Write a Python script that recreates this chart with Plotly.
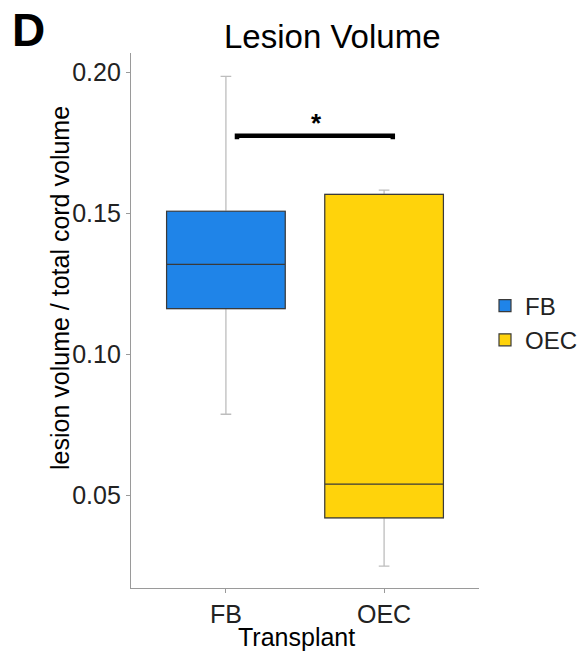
import plotly.graph_objects as go

groups = ["FB", "OEC"]
positions = [0, 1]
q1 = [0.1162, 0.0419]
median = [0.1319, 0.0539]
q3 = [0.1508, 0.1568]
lower = [0.0787, 0.0248]
upper = [0.1987, 0.1583]
colors = ["#1F84E8", "#FFD30B"]

bracket_x = [0.07, 1.055]
bracket_y = 0.1776
bracket_drop = 0.0012
star_x = 0.57
star_y = 0.1822

FONT = "Liberation Sans, Arial, sans-serif"

W, H = 584, 653
ML, MR, MT, MB = 131, 105, 53, 65
PW, PH = W - ML - MR, H - MT - MB


def px_x(px):
    return (px - ML) / PW


def px_y(py):
    return (H - MB - py) / PH


fig = go.Figure()
for i, g in enumerate(groups):
    # whiskers (light grey)
    fig.add_trace(go.Box(
        x=[positions[i]], q1=[q1[i]], median=[median[i]], q3=[q3[i]],
        lowerfence=[lower[i]], upperfence=[upper[i]],
        width=0.75, whiskerwidth=0.09, fillcolor=colors[i],
        line=dict(color="#BDBDBD", width=1.3), showlegend=False,
        hoverinfo="skip", boxpoints=False,
    ))
for i, g in enumerate(groups):
    # box body with dark outline and median
    fig.add_trace(go.Box(
        x=[positions[i]], q1=[q1[i]], median=[median[i]], q3=[q3[i]],
        lowerfence=[q1[i]], upperfence=[q3[i]],
        width=0.75, whiskerwidth=0.0, fillcolor=colors[i],
        line=dict(color="#3A3A3A", width=1.2), name=g, showlegend=True,
        boxpoints=False,
    ))

# significance bracket
fig.add_trace(go.Scatter(
    x=[bracket_x[0], bracket_x[0], bracket_x[1], bracket_x[1]],
    y=[bracket_y - bracket_drop, bracket_y, bracket_y, bracket_y - bracket_drop],
    mode="lines", line=dict(color="black", width=4.5), showlegend=False,
    hoverinfo="skip",
))
fig.add_annotation(x=star_x, y=star_y, text="<b>*</b>", showarrow=False,
                   font=dict(family=FONT, size=26, color="black"),
                   xref="x", yref="y", yanchor="middle")

# panel letter
fig.add_annotation(x=px_x(10), y=px_y(2), xref="paper", yref="paper",
                   text="<b>D</b>", showarrow=False, xanchor="left", yanchor="top",
                   font=dict(family=FONT, size=46, color="black"))
# title
fig.add_annotation(x=px_x(332), y=px_y(36), xref="paper", yref="paper",
                   text="Lesion Volume", showarrow=False, xanchor="center",
                   yanchor="middle",
                   font=dict(family=FONT, size=33, color="black"))
# axis titles
fig.add_annotation(x=px_x(296), y=px_y(637), xref="paper", yref="paper",
                   text="Transplant", showarrow=False, xanchor="center",
                   yanchor="middle",
                   font=dict(family=FONT, size=25, color="black"))
fig.add_annotation(x=px_x(60), y=px_y(288), xref="paper", yref="paper",
                   text="lesion volume / total cord volume", showarrow=False,
                   xanchor="center", yanchor="middle", textangle=-90,
                   font=dict(family=FONT, size=25, color="black"))

fig.update_layout(
    width=W, height=H,
    margin=dict(l=ML, r=MR, t=MT, b=MB, autoexpand=False),
    plot_bgcolor="white", paper_bgcolor="white",
    boxmode="overlay",
    font=dict(family=FONT, color="#222222"),
    legend=dict(xref="container", yref="container",
                x=485 / W, xanchor="left", y=1 - 323 / H, yanchor="middle",
                font=dict(family=FONT, size=24, color="#222222"),
                itemwidth=30),
    xaxis=dict(range=[-0.6, 1.6], tickvals=positions, ticktext=groups,
               showline=True, linecolor="#9A9A9A", linewidth=1.3,
               ticks="outside", ticklen=4, tickcolor="#9A9A9A",
               showgrid=False, zeroline=False,
               tickfont=dict(family=FONT, size=25, color="#222222")),
    yaxis=dict(range=[0.017, 0.207], tickvals=[0.05, 0.10, 0.15, 0.20],
               ticktext=["0.05", "0.10", "0.15", "0.20"],
               showline=True, linecolor="#9A9A9A", linewidth=1.3,
               ticks="outside", ticklen=4, tickcolor="#9A9A9A",
               showgrid=False, zeroline=False,
               tickfont=dict(family=FONT, size=25, color="#222222")),
)

fig.write_html("out.html")
